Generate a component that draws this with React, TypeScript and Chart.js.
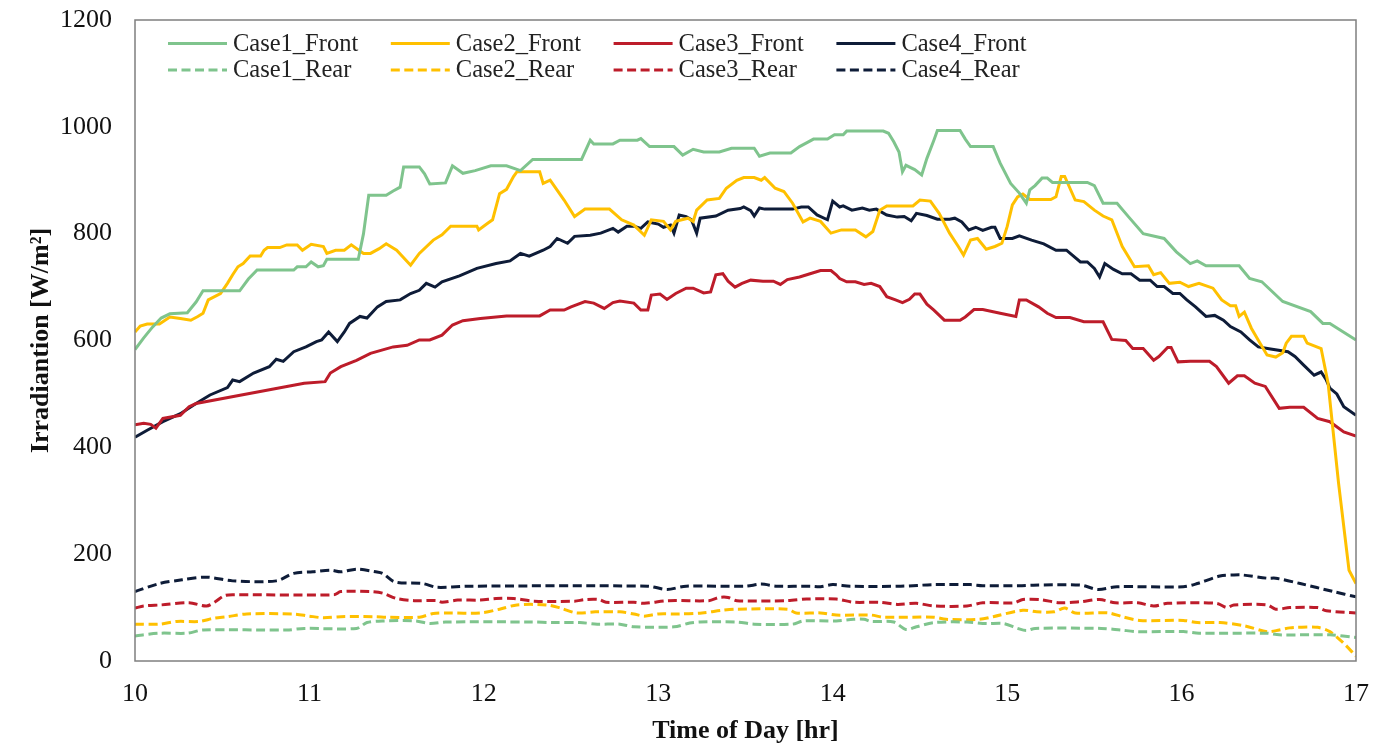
import { useEffect, useRef } from "react";
import { Chart, registerables } from "chart.js";

Chart.register(...registerables);

type Pt = [number, number];

// Axis ranges and ticks
const xTickValues = [10, 11, 12, 13, 14, 15, 16, 17];
const yTickValues = [0, 200, 400, 600, 800, 1000, 1200];

const xTitle = "Time of Day [hr]";
const yTitle = "Irradiantion [W/m²]";

// Front-side irradiance [hr, W/m²]
const case1Front: Pt[] = [
  [10.0, 583], [10.05, 605], [10.1, 625], [10.15, 642], [10.2, 650], [10.3, 652], [10.35, 672],
  [10.39, 693], [10.6, 693], [10.65, 715], [10.7, 732], [10.91, 732], [10.93, 738], [10.98, 738],
  [11.01, 747], [11.05, 738], [11.08, 740], [11.1, 752], [11.28, 752], [11.31, 800], [11.34, 872],
  [11.44, 872], [11.48, 880], [11.52, 887], [11.54, 925], [11.63, 925], [11.66, 912], [11.69, 893],
  [11.78, 895], [11.82, 927], [11.88, 913], [11.95, 918], [12.04, 927], [12.13, 927], [12.21, 918],
  [12.28, 939], [12.56, 939], [12.61, 975], [12.63, 968], [12.74, 968], [12.78, 975], [12.88, 975],
  [12.9, 978], [12.95, 963], [13.09, 963], [13.14, 947], [13.2, 958], [13.26, 953], [13.35, 953],
  [13.42, 960], [13.55, 960], [13.58, 945], [13.64, 951], [13.76, 951], [13.81, 963], [13.85, 970],
  [13.89, 977], [13.97, 977], [14.01, 985], [14.06, 985], [14.08, 992], [14.29, 992], [14.32, 988],
  [14.35, 972], [14.38, 953], [14.4, 916], [14.42, 928], [14.47, 920], [14.51, 910], [14.54, 941],
  [14.58, 975], [14.6, 993], [14.73, 993], [14.76, 977], [14.79, 963], [14.92, 963], [14.96, 932],
  [15.02, 894], [15.07, 876], [15.11, 857], [15.13, 882], [15.16, 890], [15.2, 904], [15.23, 904],
  [15.26, 896], [15.46, 896], [15.5, 890], [15.55, 857], [15.63, 857], [15.7, 830], [15.78, 800],
  [15.9, 791], [15.97, 766], [16.05, 744], [16.09, 749], [16.14, 740], [16.33, 740], [16.39, 716],
  [16.46, 710], [16.58, 673], [16.74, 654], [16.81, 632], [16.85, 632], [17.0, 601],
];

const case2Front: Pt[] = [
  [10.0, 616], [10.03, 627], [10.07, 631], [10.14, 631], [10.2, 644], [10.26, 641], [10.32, 638],
  [10.36, 645], [10.39, 651], [10.42, 676], [10.49, 688], [10.53, 707], [10.56, 723], [10.59, 738],
  [10.62, 744], [10.66, 758], [10.72, 758], [10.74, 769], [10.76, 774], [10.83, 774], [10.87, 779],
  [10.93, 779], [10.96, 769], [11.01, 780], [11.08, 776], [11.1, 763], [11.15, 769], [11.2, 769],
  [11.24, 779], [11.31, 763], [11.35, 763], [11.4, 772], [11.44, 781], [11.5, 769], [11.58, 741],
  [11.63, 763], [11.71, 788], [11.76, 798], [11.81, 814], [11.96, 814], [11.97, 807], [12.02, 819],
  [12.05, 826], [12.09, 875], [12.13, 883], [12.17, 907], [12.19, 916], [12.32, 916], [12.34, 894],
  [12.38, 900], [12.46, 863], [12.52, 832], [12.58, 846], [12.72, 846], [12.79, 826], [12.86, 816],
  [12.92, 797], [12.96, 826], [13.03, 823], [13.07, 807], [13.1, 823], [13.17, 829], [13.2, 823],
  [13.22, 844], [13.28, 863], [13.35, 866], [13.39, 885], [13.45, 900], [13.49, 905], [13.55, 905],
  [13.59, 900], [13.61, 905], [13.67, 885], [13.72, 879], [13.77, 857], [13.83, 822], [13.87, 829],
  [13.93, 823], [13.99, 801], [14.05, 807], [14.13, 807], [14.19, 794], [14.23, 804], [14.27, 844],
  [14.31, 852], [14.46, 852], [14.5, 863], [14.56, 861], [14.61, 838], [14.67, 801], [14.72, 776],
  [14.75, 760], [14.79, 788], [14.83, 791], [14.88, 771], [14.93, 776], [14.97, 782], [15.0, 813],
  [15.03, 854], [15.06, 869], [15.09, 874], [15.13, 864], [15.25, 864], [15.28, 869], [15.31, 907],
  [15.33, 907], [15.39, 863], [15.44, 860], [15.5, 844], [15.55, 833], [15.6, 826], [15.66, 776],
  [15.73, 738], [15.81, 740], [15.84, 723], [15.88, 727], [15.93, 707], [15.99, 709], [16.04, 701],
  [16.1, 707], [16.18, 698], [16.23, 676], [16.28, 665], [16.31, 665], [16.33, 645], [16.36, 653],
  [16.4, 623], [16.45, 595], [16.49, 573], [16.54, 569], [16.58, 577], [16.6, 595], [16.63, 608],
  [16.7, 608], [16.72, 595], [16.8, 585], [16.84, 520], [16.9, 333], [16.96, 170], [17.0, 145],
];

const case3Front: Pt[] = [
  [10.0, 442], [10.05, 445], [10.09, 443], [10.12, 436], [10.16, 454], [10.26, 460], [10.31, 476],
  [10.35, 482], [10.97, 520], [11.09, 523], [11.12, 539], [11.18, 551], [11.27, 563], [11.35, 576],
  [11.48, 588], [11.56, 591], [11.63, 601], [11.69, 601], [11.76, 610], [11.82, 629], [11.88, 637],
  [11.98, 641], [12.13, 646], [12.32, 646], [12.38, 657], [12.46, 657], [12.5, 663], [12.58, 673],
  [12.63, 670], [12.69, 660], [12.74, 671], [12.78, 674], [12.86, 670], [12.9, 657], [12.94, 657],
  [12.96, 685], [13.01, 687], [13.05, 677], [13.1, 688], [13.16, 698], [13.2, 698], [13.26, 689],
  [13.3, 691], [13.33, 723], [13.37, 725], [13.4, 711], [13.44, 700], [13.48, 707], [13.53, 713],
  [13.6, 711], [13.66, 711], [13.7, 705], [13.74, 714], [13.81, 719], [13.87, 725], [13.93, 731],
  [13.99, 731], [14.02, 723], [14.04, 716], [14.08, 710], [14.13, 710], [14.18, 705], [14.22, 707],
  [14.27, 701], [14.31, 682], [14.36, 676], [14.4, 671], [14.44, 677], [14.47, 687], [14.5, 687],
  [14.54, 668], [14.58, 657], [14.64, 638], [14.73, 638], [14.76, 644], [14.81, 658], [14.86, 658],
  [14.96, 651], [15.05, 645], [15.07, 676], [15.11, 676], [15.18, 663], [15.23, 651], [15.28, 643],
  [15.36, 643], [15.44, 635], [15.55, 635], [15.6, 602], [15.68, 600], [15.72, 585], [15.78, 585],
  [15.84, 563], [15.87, 570], [15.92, 587], [15.94, 587], [15.98, 560], [16.05, 561], [16.16, 561],
  [16.2, 551], [16.27, 520], [16.32, 534], [16.36, 534], [16.42, 520], [16.48, 514], [16.56, 473],
  [16.62, 475], [16.7, 475], [16.78, 454], [16.85, 448], [16.93, 429], [17.0, 421],
];

const case4Front: Pt[] = [
  [10.0, 419], [10.07, 432], [10.16, 448], [10.26, 463], [10.35, 482], [10.43, 498], [10.53, 512],
  [10.56, 526], [10.6, 523], [10.68, 539], [10.77, 551], [10.81, 565], [10.85, 561], [10.91, 579],
  [10.98, 588], [11.04, 598], [11.07, 601], [11.11, 616], [11.16, 598], [11.2, 616], [11.23, 632],
  [11.29, 645], [11.33, 642], [11.39, 663], [11.44, 673], [11.52, 676], [11.58, 688], [11.63, 694],
  [11.67, 707], [11.72, 700], [11.76, 710], [11.86, 721], [11.96, 735], [12.07, 744], [12.15, 749],
  [12.21, 763], [12.26, 758], [12.34, 769], [12.38, 776], [12.42, 791], [12.48, 782], [12.52, 795],
  [12.61, 797], [12.67, 801], [12.74, 810], [12.77, 803], [12.82, 814], [12.86, 814], [12.9, 810],
  [12.94, 822], [13.0, 818], [13.03, 812], [13.07, 816], [13.09, 801], [13.12, 835], [13.16, 832],
  [13.19, 826], [13.22, 801], [13.24, 829], [13.33, 833], [13.4, 844], [13.47, 847], [13.49, 850],
  [13.53, 843], [13.55, 833], [13.58, 848], [13.61, 846], [13.77, 846], [13.82, 850], [13.86, 850],
  [13.91, 835], [13.97, 826], [14.0, 861], [14.04, 850], [14.06, 852], [14.11, 844], [14.17, 848],
  [14.21, 844], [14.25, 846], [14.31, 835], [14.37, 831], [14.41, 832], [14.45, 824], [14.48, 838],
  [14.54, 834], [14.6, 827], [14.67, 827], [14.7, 829], [14.74, 822], [14.78, 807], [14.82, 812],
  [14.86, 806], [14.91, 812], [14.93, 812], [14.96, 791], [15.03, 791], [15.07, 796], [15.14, 788],
  [15.21, 781], [15.28, 769], [15.34, 769], [15.42, 747], [15.46, 747], [15.5, 735], [15.53, 719],
  [15.56, 744], [15.61, 733], [15.66, 725], [15.71, 725], [15.76, 713], [15.82, 713], [15.86, 701],
  [15.9, 701], [15.95, 688], [15.99, 688], [16.03, 676], [16.08, 663], [16.14, 645], [16.19, 647],
  [16.24, 638], [16.28, 626], [16.34, 616], [16.39, 601], [16.44, 588], [16.51, 584], [16.61, 579],
  [16.65, 570], [16.7, 554], [16.76, 535], [16.8, 541], [16.83, 526], [16.85, 511], [16.89, 500],
  [16.93, 476], [17.0, 460],
];

// Rear-side irradiance [hr, W/m²]
const case1Rear: Pt[] = [
  [10.0, 47], [10.14, 52], [10.3, 52], [10.39, 58], [10.87, 58], [10.97, 61], [11.27, 61],
  [11.33, 72], [11.42, 75], [11.61, 75], [11.69, 70], [11.78, 73], [12.27, 73], [12.4, 72],
  [12.55, 72], [12.65, 69], [12.78, 69], [12.86, 64], [13.09, 64], [13.18, 71], [13.24, 73],
  [13.45, 73], [13.55, 69], [13.77, 69], [13.83, 75], [14.02, 75], [14.12, 78], [14.18, 78],
  [14.22, 74], [14.35, 73], [14.42, 59], [14.48, 64], [14.58, 72], [14.77, 73], [14.88, 70],
  [14.98, 70], [15.06, 61], [15.11, 57], [15.16, 61], [15.54, 61], [15.65, 58], [15.75, 55],
  [16.01, 55], [16.1, 52], [16.49, 52], [16.56, 49], [16.85, 49], [17.0, 44],
];

const case2Rear: Pt[] = [
  [10.0, 69], [10.14, 69], [10.24, 74], [10.37, 74], [10.45, 80], [10.53, 83], [10.64, 88],
  [10.91, 88], [11.0, 84], [11.08, 81], [11.18, 83], [11.37, 83], [11.45, 82], [11.63, 82],
  [11.71, 89], [11.79, 90], [11.98, 90], [12.09, 97], [12.19, 105], [12.36, 105], [12.44, 99],
  [12.53, 90], [12.64, 92], [12.78, 92], [12.86, 88], [12.92, 84], [13.0, 88], [13.12, 88],
  [13.25, 90], [13.37, 95], [13.45, 97], [13.74, 97], [13.79, 90], [13.93, 90], [14.02, 86],
  [14.22, 86], [14.29, 82], [14.58, 82], [14.65, 78], [14.84, 78], [14.92, 83], [15.09, 95],
  [15.17, 92], [15.27, 92], [15.33, 99], [15.39, 90], [15.58, 90], [15.66, 83], [15.76, 76],
  [16.01, 76], [16.09, 72], [16.22, 72], [16.36, 66], [16.49, 55], [16.56, 58], [16.62, 62],
  [16.66, 63], [16.78, 63], [16.85, 55], [16.93, 33], [17.0, 9],
];

const case3Rear: Pt[] = [
  [10.0, 99], [10.05, 103], [10.15, 105], [10.31, 109], [10.41, 103], [10.46, 111], [10.51, 122],
  [10.56, 124], [11.14, 124], [11.18, 130], [11.35, 130], [11.42, 127], [11.5, 117], [11.6, 113],
  [11.73, 113], [11.76, 110], [11.85, 114], [11.98, 114], [12.07, 117], [12.17, 117], [12.29, 112],
  [12.52, 112], [12.58, 115], [12.66, 115], [12.7, 110], [12.86, 110], [12.92, 108], [13.06, 113],
  [13.29, 113], [13.35, 119], [13.4, 119], [13.45, 113], [13.74, 113], [13.85, 116], [14.02, 116],
  [14.12, 110], [14.27, 110], [14.37, 106], [14.48, 108], [14.58, 103], [14.77, 103], [14.86, 109],
  [15.04, 109], [15.09, 115], [15.19, 115], [15.3, 109], [15.42, 111], [15.53, 115], [15.62, 109],
  [15.75, 109], [15.84, 103], [15.92, 108], [16.2, 108], [16.26, 100], [16.3, 105], [16.49, 105],
  [16.54, 97], [16.62, 100], [16.78, 100], [16.83, 94], [17.0, 90],
];

const case4Rear: Pt[] = [
  [10.0, 130], [10.14, 145], [10.27, 152], [10.41, 157], [10.56, 150], [10.81, 150], [10.91, 164],
  [11.02, 167], [11.12, 170], [11.18, 167], [11.27, 172], [11.38, 167], [11.42, 164], [11.49, 148],
  [11.65, 145], [11.73, 138], [11.9, 140], [12.94, 140], [13.05, 134], [13.16, 140], [13.5, 140],
  [13.59, 144], [13.68, 140], [13.87, 140], [13.93, 139], [14.0, 143], [14.1, 140], [14.39, 140],
  [14.58, 143], [14.79, 143], [14.86, 141], [15.07, 141], [15.15, 142], [15.42, 142], [15.52, 134],
  [15.63, 139], [16.01, 139], [16.09, 145], [16.22, 159], [16.3, 161], [16.35, 161], [16.49, 155],
  [16.54, 155], [16.68, 145], [16.87, 130], [17.0, 120],
];

const frontLabels = ["Case1_Front", "Case2_Front", "Case3_Front", "Case4_Front"];
const rearLabels = ["Case1_Rear", "Case2_Rear", "Case3_Rear", "Case4_Rear"];
const frontSeries = [case1Front, case2Front, case3Front, case4Front];
const rearSeries = [case1Rear, case2Rear, case3Rear, case4Rear];
const caseColors = ["#7fc48d", "#ffc000", "#bd1c2a", "#0e1c38"];

const SERIF = "'Liberation Serif', 'Times New Roman', serif";
const DASH = [9, 4.5];

// Two-row legend laid out as a grid inside the plot area
const gridLegend = {
  id: "gridLegend",
  afterDraw(chart: Chart) {
    const { ctx, chartArea } = chart;
    ctx.save();
    ctx.font = `24.5px ${SERIF}`;
    ctx.textBaseline = "middle";
    ctx.textAlign = "left";
    chart.data.datasets.forEach((ds: any, i: number) => {
      const col = i % 4;
      const row = Math.floor(i / 4);
      const x0 = chartArea.left + 33 + col * 222.8;
      const y = chartArea.top + 23.5 + row * 26.5;
      ctx.strokeStyle = ds.borderColor;
      ctx.lineWidth = 3;
      ctx.setLineDash(ds.borderDash || []);
      ctx.beginPath();
      ctx.moveTo(x0, y);
      ctx.lineTo(x0 + 59, y);
      ctx.stroke();
      ctx.setLineDash([]);
      ctx.fillStyle = "#222";
      ctx.fillText(ds.label, x0 + 65, y + 1);
    });
    ctx.restore();
  },
};

// Grey frame around the plot area
const plotFrame = {
  id: "plotFrame",
  afterDatasetsDraw(chart: Chart) {
    const { ctx, chartArea } = chart;
    ctx.save();
    ctx.strokeStyle = "#7f7f7f";
    ctx.lineWidth = 1.5;
    ctx.strokeRect(
      chartArea.left,
      chartArea.top,
      chartArea.right - chartArea.left,
      chartArea.bottom - chartArea.top
    );
    ctx.restore();
  },
};

export default function App() {
  const canvasRef = useRef<HTMLCanvasElement | null>(null);

  useEffect(() => {
    if (!canvasRef.current) return;
    const toXY = (pts: Pt[]) => pts.map(([x, y]) => ({ x, y }));

    const datasets = [
      ...frontSeries.map((s, i) => ({
        label: frontLabels[i],
        data: toXY(s),
        borderColor: caseColors[i],
        backgroundColor: caseColors[i],
        borderWidth: 3,
        pointRadius: 0,
        tension: 0,
        fill: false,
      })),
      ...rearSeries.map((s, i) => ({
        label: rearLabels[i],
        data: toXY(s),
        borderColor: caseColors[i],
        backgroundColor: caseColors[i],
        borderWidth: 3,
        borderDash: DASH,
        pointRadius: 0,
        tension: 0.3,
        fill: false,
      })),
    ];

    const chart = new Chart(canvasRef.current, {
      type: "line",
      data: { datasets },
      options: {
        animation: false,
        responsive: false,
        devicePixelRatio: 1,
        layout: { padding: { top: 20, right: 33, bottom: 0, left: 0 } },
        plugins: {
          legend: { display: false },
          tooltip: { enabled: false },
        },
        scales: {
          x: {
            type: "linear",
            min: xTickValues[0],
            max: xTickValues[xTickValues.length - 1],
            afterBuildTicks: (scale: any) => {
              scale.ticks = xTickValues.map((v) => ({ value: v }));
            },
            afterFit: (scale: any) => {
              scale.height = 95;
              scale.paddingLeft = 0;
              scale.paddingRight = 0;
            },
            grid: { display: false, drawTicks: false },
            border: { display: false },
            ticks: {
              padding: 17.5,
              color: "#111",
              font: { family: SERIF, size: 26 },
              maxRotation: 0,
              autoSkip: false,
              callback: (v: any) => String(v),
            },
            title: {
              display: true,
              text: xTitle,
              color: "#111",
              font: { family: SERIF, size: 26, weight: "bold" },
              padding: { top: 0, bottom: 9 },
            },
          },
          y: {
            type: "linear",
            min: yTickValues[0],
            max: yTickValues[yTickValues.length - 1],
            afterBuildTicks: (scale: any) => {
              scale.ticks = yTickValues.map((v) => ({ value: v }));
            },
            afterFit: (scale: any) => {
              scale.width = 135;
              scale.paddingTop = 0;
              scale.paddingBottom = 0;
            },
            grid: { display: false, drawTicks: false },
            border: { display: false },
            ticks: {
              padding: 23,
              color: "#111",
              font: { family: SERIF, size: 26 },
              autoSkip: false,
              callback: (v: any) => String(v),
            },
            title: {
              display: true,
              text: yTitle,
              color: "#111",
              font: { family: SERIF, size: 26, weight: "bold" },
              padding: { top: 26, bottom: 0 },
            },
          },
        },
      },
      plugins: [plotFrame, gridLegend],
    } as any);

    return () => chart.destroy();
  }, []);

  return (
    <div
      style={{
        position: "fixed",
        left: 0,
        top: 0,
        width: 1389,
        height: 756,
        background: "#fff",
      }}
    >
      <canvas ref={canvasRef} width={1389} height={756} style={{ display: "block" }} />
    </div>
  );
}
